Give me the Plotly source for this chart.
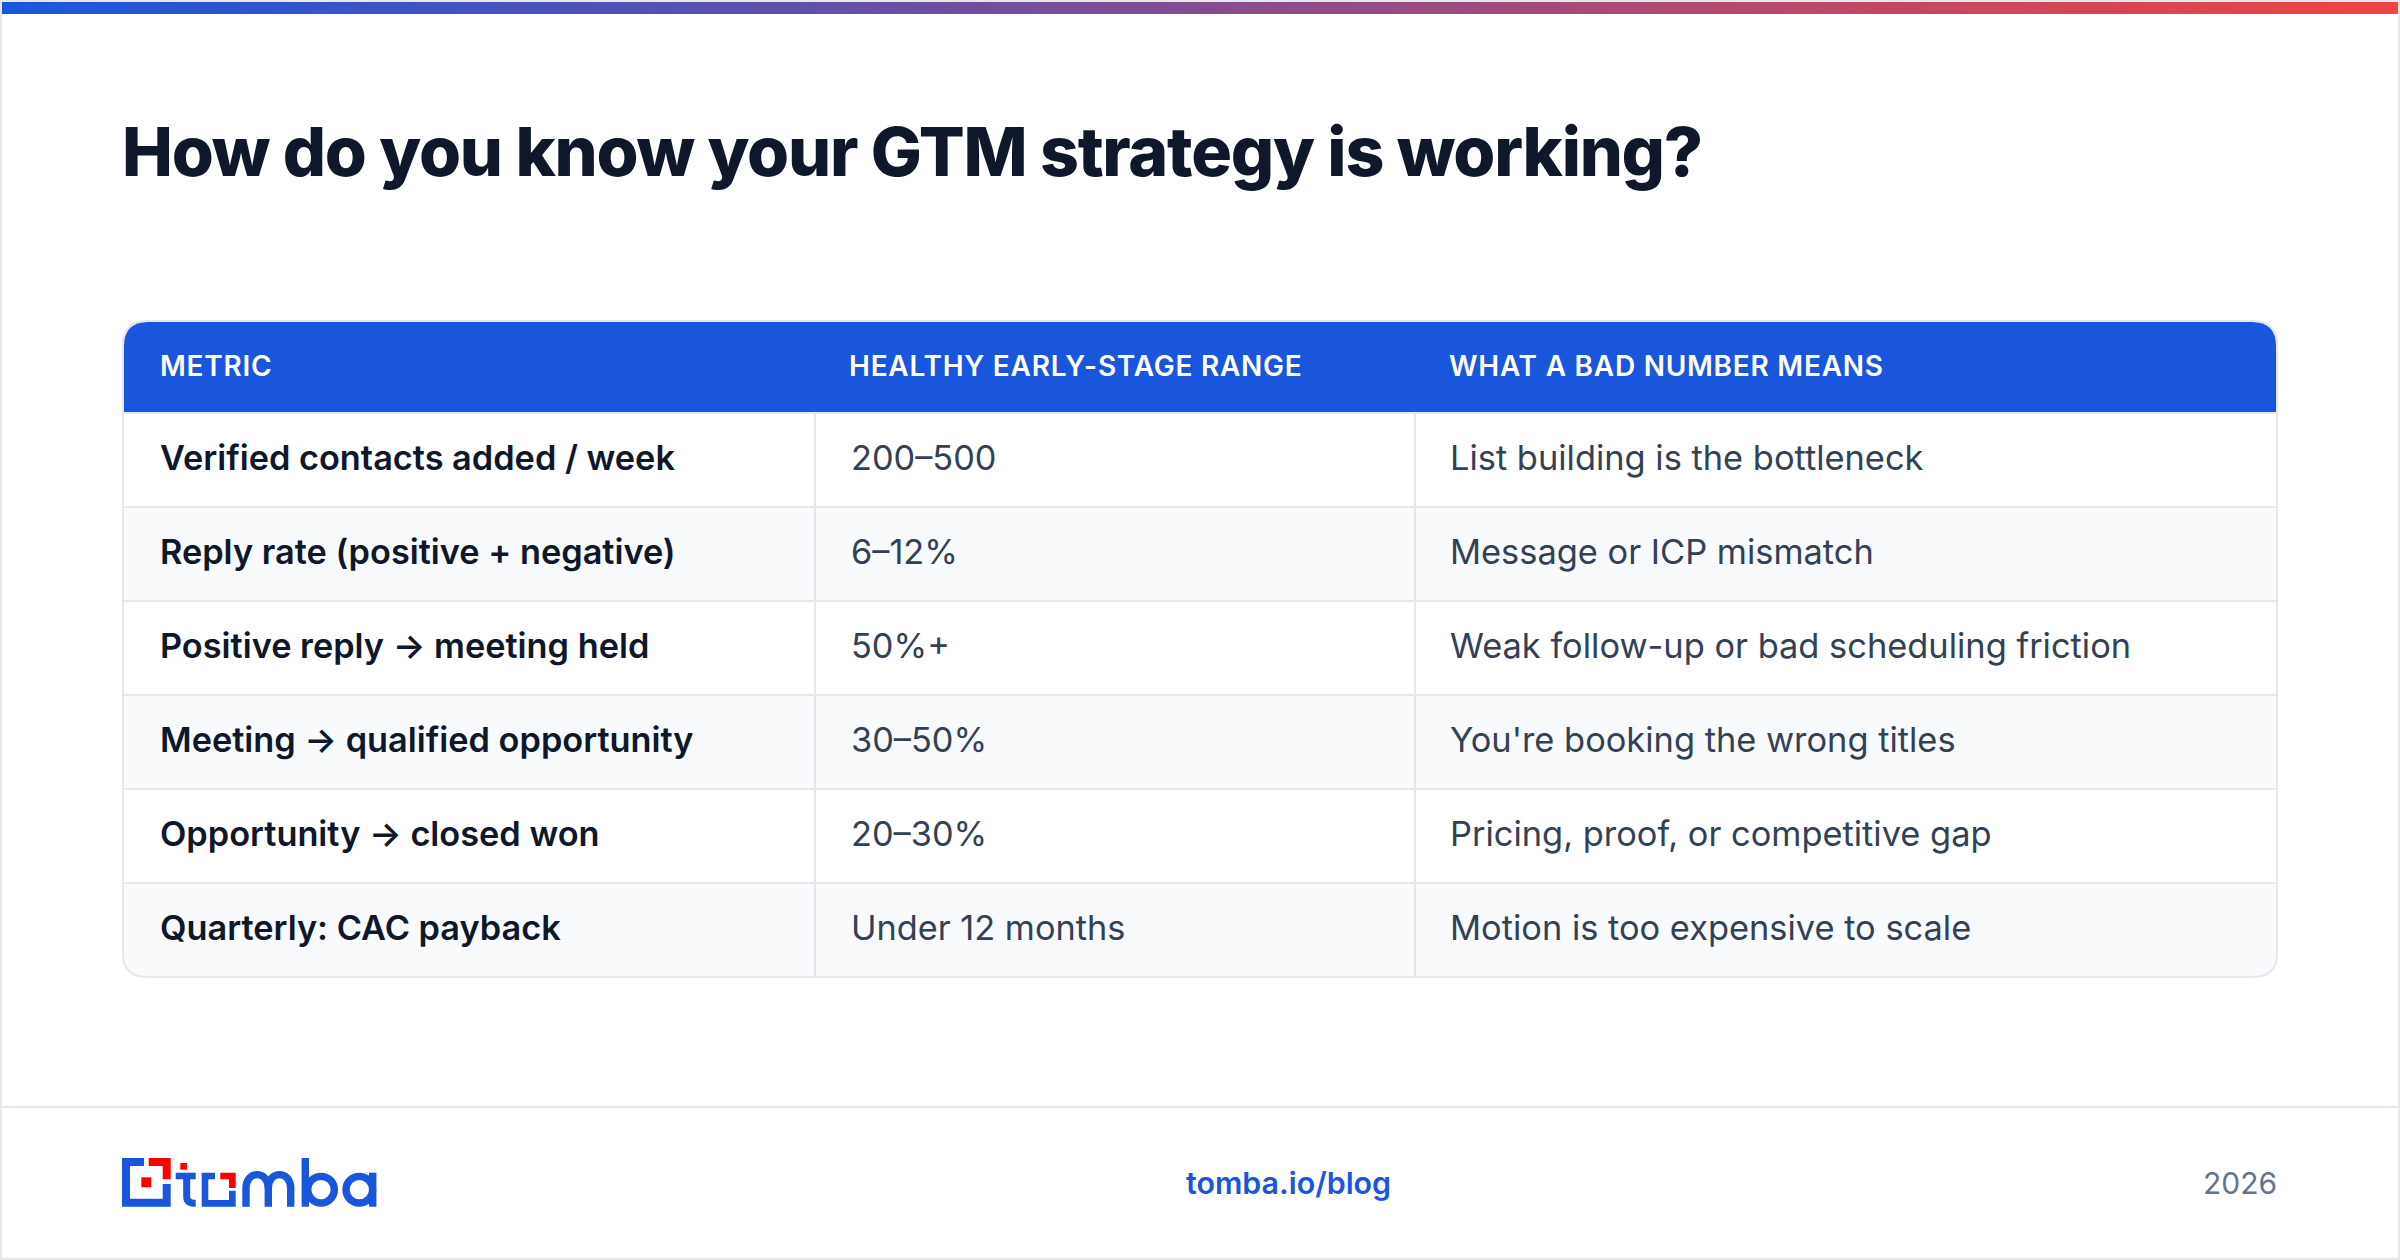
import plotly.graph_objects as go

title = "How do you know your GTM strategy is working?"
headers = ["METRIC", "HEALTHY EARLY-STAGE RANGE", "WHAT A BAD NUMBER MEANS"]
metrics = [
    "Verified contacts added / week",
    "Reply rate (positive + negative)",
    "Positive reply → meeting held",
    "Meeting → qualified opportunity",
    "Opportunity → closed won",
    "Quarterly: CAC payback",
]
ranges = ["200–500", "6–12%", "50%+", "30–50%", "20–30%", "Under 12 months"]
meanings = [
    "List building is the bottleneck",
    "Message or ICP mismatch",
    "Weak follow-up or bad scheduling friction",
    "You're booking the wrong titles",
    "Pricing, proof, or competitive gap",
    "Motion is too expensive to scale",
]
footer_link = "tomba.io/blog"
footer_year = "2026"

BLUE = "#1a56db"
RED = "#ff0000"
BORDER = "#e5e7eb"
INK = "#0f172a"
BODY = "#334155"
FONT = "Inter"

fig = go.Figure()

# gradient strip across the top
fig.add_trace(go.Scatter(
    x=[2, 2398, 2398, 2, 2], y=[2, 2, 14, 14, 2],
    mode="lines", line=dict(width=0), fill="toself", hoverinfo="skip",
    fillgradient=dict(type="horizontal", colorscale=[[0, BLUE], [1, "#ef4444"]]),
))

shapes = []
notes = []


def rect(x0, y0, x1, y1, fill):
    shapes.append(dict(type="rect", x0=x0, y0=y0, x1=x1, y1=y1, fillcolor=fill, line_width=0, layer="below"))


def hline(x0, x1, y, color=BORDER, width=2):
    shapes.append(dict(type="line", x0=x0, x1=x1, y0=y, y1=y, line=dict(color=color, width=width), layer="below"))


def vline(x, y0, y1, color=BORDER, width=2):
    shapes.append(dict(type="line", x0=x, x1=x, y0=y0, y1=y1, line=dict(color=color, width=width), layer="below"))


def poly(path, fill):
    shapes.append(dict(type="path", path=path, fillcolor=fill, line_width=0, layer="below"))


def stroke(path, width=7.4):
    shapes.append(dict(type="path", path=path, line=dict(color=BLUE, width=width), layer="below"))


def text(s, x, y, size, color, weight=400, anchor="left"):
    notes.append(dict(
        text=s, x=x, y=y, xref="x", yref="y", xanchor=anchor, yanchor="middle", align=anchor,
        showarrow=False, borderpad=0, font=dict(family=FONT, size=size, color=color, weight=weight),
    ))


# page frame and footer rule
shapes.append(dict(type="rect", x0=1, y0=1, x1=2399, y1=1259, line=dict(color=BORDER, width=2), layer="below"))
hline(0, 2400, 1107)

# table geometry, rules sit 1px below each row edge
left, right, top, head_bottom, row_h = 123, 2277, 321, 412, 94
col2, col3 = 815, 1415
bottom = head_bottom + row_h * len(metrics) + 1
r = 24

# alternating rows, the last one carries the rounded bottom corners
for i in range(1, len(metrics), 2):
    y0 = head_bottom + row_h * i + 1
    if i == len(metrics) - 1:
        poly(f"M{left},{y0} H{right} V{bottom - r} Q{right},{bottom} {right - r},{bottom} "
             f"H{left + r} Q{left},{bottom} {left},{bottom - r} Z", "#f8fafc")
    else:
        rect(left, y0, right, y0 + row_h, "#f8fafc")

for i in range(len(metrics)):
    hline(left, right, head_bottom + row_h * i + 1)
vline(col2, head_bottom, bottom)
vline(col3, head_bottom, bottom)

# table outline
shapes.append(dict(
    type="path", layer="below", line=dict(color=BORDER, width=2),
    path=f"M{left + r},{top} H{right - r} Q{right},{top} {right},{top + r} V{bottom - r} "
         f"Q{right},{bottom} {right - r},{bottom} H{left + r} Q{left},{bottom} {left},{bottom - r} "
         f"V{top + r} Q{left},{top} {left + r},{top} Z",
))
# header band sits just inside the outline
hl, hr, ht = left + 1, right - 1, top + 1
poly(f"M{hl + r},{ht} H{hr - r} Q{hr},{ht} {hr},{ht + r} V{head_bottom} H{hl} V{ht + r} "
     f"Q{hl},{ht} {hl + r},{ht} Z", BLUE)

text(title, 121, 150.5, 68, INK, 800)

for s, x in zip(headers, [158.5, 848, 1448]):
    text(s, x, 366, 28, "#ffffff", 600)

for i, (m, g, b) in enumerate(zip(metrics, ranges, meanings)):
    y = head_bottom + row_h * (i + 0.5) - 1.5
    text(m, 158.5, y, 34.3, INK, 600)
    text(g, 850, y, 34.3, BODY)
    text(b, 1449, y, 34.4, BODY)

text(footer_link, 1288.5, 1183, 30.4, BLUE, 600, "center")
text(footer_year, 2278, 1183, 30, "#64748b", 400, "right")

# logo, drawn from crop measurements
ox, oy, k = 80, 1120, 1 / 3


def pts(*p):
    return "M" + " L".join(f"{ox + a * k:.1f},{oy + b * k:.1f}" for a, b in p) + " Z"


poly(pts((126, 114), (192, 114), (192, 138), (150, 138), (150, 236), (248, 236), (248, 192), (272, 192),
         (272, 260), (126, 260)), BLUE)
poly(pts((206, 114), (272, 114), (272, 178), (248, 178), (248, 138), (206, 138)), RED)
poly(pts((184, 172), (214, 172), (214, 202), (184, 202)), RED)
poly(pts((301, 129), (321, 129), (321, 149), (301, 149)), RED)
poly(pts((287, 158), (347, 158), (347, 178), (287, 178)), BLUE)
poly(pts((365, 158), (405, 158), (405, 178), (385, 178), (385, 240), (447, 240), (447, 212), (467, 212),
         (467, 260), (365, 260)), BLUE)
poly(pts((421, 158), (467, 158), (467, 204), (447, 204), (447, 178), (421, 178)), RED)


def pt(a, b):
    return f"{ox + a * k:.1f},{oy + b * k:.1f}"


stroke(f"M{pt(320, 160)} L{pt(320, 230)} Q{pt(320, 250)} {pt(347, 250)}", 7)
stroke(f"M{pt(498, 260)} L{pt(498, 205)} C{pt(498, 150)} {pt(565, 150)} {pt(565, 205)} L{pt(565, 260)}")
stroke(f"M{pt(565, 205)} C{pt(565, 150)} {pt(632, 150)} {pt(632, 205)} L{pt(632, 260)}")
stroke(f"M{pt(676, 114)} L{pt(676, 260)}")
stroke(f"M{pt(878, 158)} L{pt(878, 260)}")
for cx in [723, 838]:
    shapes.append(dict(
        type="circle", x0=ox + (cx - 40) * k, x1=ox + (cx + 40) * k, y0=oy + 169 * k, y1=oy + 249 * k,
        line=dict(color=BLUE, width=7.4), layer="below",
    ))

fig.update_layout(
    width=2400, height=1260,
    margin=dict(l=0, r=0, t=0, b=0),
    paper_bgcolor="white", plot_bgcolor="white",
    showlegend=False,
    shapes=shapes, annotations=notes,
    xaxis=dict(range=[0, 2400], visible=False, fixedrange=True),
    yaxis=dict(range=[1260, 0], visible=False, fixedrange=True),
)

# plotly has no letter-spacing option, title is tight and the header row is tracked out
spacing_js = """
document.body.style.margin = '0';
var labels = document.querySelectorAll('.annotation-text');
labels[0].style.letterSpacing = '-1.25px';
for (var i = 1; i < 4; i++) { labels[i].style.letterSpacing = '0.75px'; }
"""
fig.write_html("out.html", post_script=spacing_js, config={"displayModeBar": False})
